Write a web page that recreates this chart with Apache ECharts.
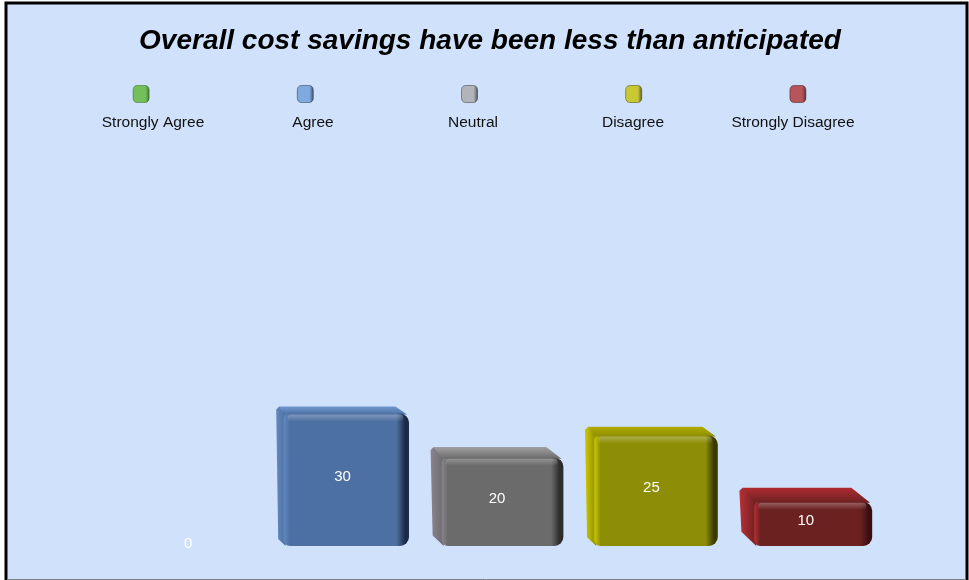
<!DOCTYPE html>
<html>
<head>
<meta charset="utf-8">
<script src="https://cdn.jsdelivr.net/npm/echarts@6/dist/echarts.min.js"></script>
<style>
  html, body { margin: 0; padding: 0; background: #ffffff; }
  #chart { width: 969px; height: 580px; }
</style>
</head>
<body>
<div id="chart"></div>
<script>
// Survey responses
const titleText = 'Overall cost savings have been less than anticipated';
const categories = ['Strongly Agree', 'Agree', 'Neutral', 'Disagree', 'Strongly Disagree'];
const responses = [0, 30, 20, 25, 10];

// Box shading per category: front face, left side, top face, shadowed edge, legend swatch
const palette = [
  { front: '#4f9a2a', side: '#78c850', top: '#6bbf40', edge: '#2a5a12', swatch: '#5cb832' },
  { front: '#4d70a2', side: '#6288c0', top: '#7099d2', edge: '#1b2a44', swatch: '#6c9bd8' },
  { front: '#6b6b6b', side: '#8c8490', top: '#a0a0a0', edge: '#2c2c2c', swatch: '#a9a9a9' },
  { front: '#8e8e06', side: '#ccc800', top: '#b0ab00', edge: '#3a3a00', swatch: '#c9c200' },
  { front: '#6c2121', side: '#b83036', top: '#ad2c32', edge: '#3a0e10', swatch: '#b03232' }
];

const chart = echarts.init(document.getElementById('chart'), null, { renderer: 'canvas' });

function hGrad(stops) {
  return new echarts.graphic.LinearGradient(0, 0, 1, 0, stops.map(s => ({ offset: s[0], color: s[1] })));
}
function vGrad(stops) {
  return new echarts.graphic.LinearGradient(0, 0, 0, 1, stops.map(s => ({ offset: s[0], color: s[1] })));
}

// Draws a bevelled 3D box for each response count
function renderBox(params, api) {
  const idx = api.value(0);
  const v = api.value(1);
  const base = api.coord([idx, 0]);
  const top = api.coord([idx, v]);
  const band = api.size([1, 0])[0];
  const bw = band * 0.86;
  const x0 = base[0] - bw / 2;
  const x1 = base[0] + bw / 2;
  const yB = base[1];
  const yT = top[1];
  const c = palette[idx];
  const children = [];
  if (v > 0) {
    // depth grows as the box top sits lower in the view
    const dy = Math.max(6, 6 + (yT - 400) * 0.08);
    const dx = dy * 1.05;
    children.push({
      type: 'polygon',
      shape: { points: [[x0, yT - dy + 3], [x0 + 3, yT - dy], [x0 + dx + 2, yT], [x0 + dx + 2, yB], [x0 + 2, yB - dy]] },
      style: { fill: hGrad([[0, c.side], [1, c.front]]) }
    });
    children.push({
      type: 'polygon',
      shape: { points: [[x0 + 3, yT - dy], [x1 - dx - 6, yT - dy], [x1 - 2, yT + 1], [x0 + dx, yT + 1]] },
      style: { fill: vGrad([[0, c.top], [1, c.front]]) }
    });
    children.push({
      type: 'rect',
      shape: { x: x0 + dx, y: yT, width: x1 - x0 - dx, height: yB - yT, r: [5, 9, 9, 6] },
      style: {
        fill: hGrad([[0, c.side], [0.05, c.front], [0.9, c.front], [0.97, c.edge], [1, c.edge]])
      }
    });
    children.push({
      type: 'rect',
      shape: { x: x0 + dx + 4, y: yT + 1, width: x1 - x0 - dx - 10, height: 7, r: 3 },
      style: { fill: vGrad([[0, 'rgba(255,255,255,0.28)'], [1, 'rgba(255,255,255,0)']]) }
    });
  }
  children.push({
    type: 'text',
    style: {
      text: String(v),
      x: (x0 + x1) / 2,
      y: v > 0 ? (yT + yB) / 2 - 3 : yB - 2,
      fill: '#ffffff',
      font: '15px "Liberation Sans", Arial, sans-serif',
      align: 'center',
      verticalAlign: 'middle'
    }
  });
  return { type: 'group', children };
}

const option = {
  backgroundColor: '#ffffff',
  animation: false,
  title: {
    text: titleText,
    left: 485,
    textAlign: 'center',
    top: 22,
    textStyle: {
      fontFamily: '"Liberation Sans", Arial, sans-serif',
      fontSize: 28,
      fontWeight: 'bold',
      fontStyle: 'italic',
      color: '#000000'
    }
  },
  graphic: [
    {
      type: 'rect',
      z: -100,
      silent: true,
      shape: { x: 6, y: 3, width: 961, height: 590 },
      style: { fill: '#d0e2fb', stroke: '#000000', lineWidth: 3 }
    },
    {
      type: 'line',
      z: -99,
      silent: true,
      shape: { x1: 7, y1: 579.5, x2: 966, y2: 579.5 },
      style: { stroke: '#7a7f88', lineWidth: 1 }
    }
  ],
  grid: [
    { left: 111, right: 86, top: 281, bottom: 34 },   // boxes
    { left: 59, right: 89, top: 85, height: 18 },     // legend swatches
    { left: 73, right: 96, top: 100, height: 10 }     // legend names
  ],
  xAxis: [
    { gridIndex: 0, type: 'category', data: categories, show: false },
    { gridIndex: 1, type: 'category', data: categories, show: false },
    {
      gridIndex: 2, type: 'category', data: categories,
      axisLine: { show: false }, axisTick: { show: false },
      axisLabel: {
        margin: 5,
        fontSize: 15.5,
        color: '#111111',
        fontFamily: '"Liberation Sans", Arial, sans-serif',
        interval: 0
      }
    }
  ],
  yAxis: [
    { gridIndex: 0, type: 'value', min: 0, max: 60, show: false },
    { gridIndex: 1, type: 'value', min: -1, max: 1, show: false },
    { gridIndex: 2, type: 'value', min: 0, max: 1, show: false }
  ],
  series: [
    {
      type: 'custom',
      xAxisIndex: 0,
      yAxisIndex: 0,
      renderItem: renderBox,
      encode: { x: 0, y: 1 },
      data: responses.map((v, i) => [i, v])
    },
    {
      type: 'scatter',
      xAxisIndex: 1,
      yAxisIndex: 1,
      symbol: 'roundRect',
      symbolSize: [16, 17],
      silent: true,
      data: categories.map((name, i) => ({
        value: [i, 0],
        itemStyle: {
          color: hGrad([[0, palette[i].swatch], [0.75, palette[i].swatch], [1, palette[i].edge]]),
          borderColor: palette[i].edge,
          borderWidth: 0.6
        }
      }))
    }
  ]
};

chart.setOption(option);
</script>
</body>
</html>
